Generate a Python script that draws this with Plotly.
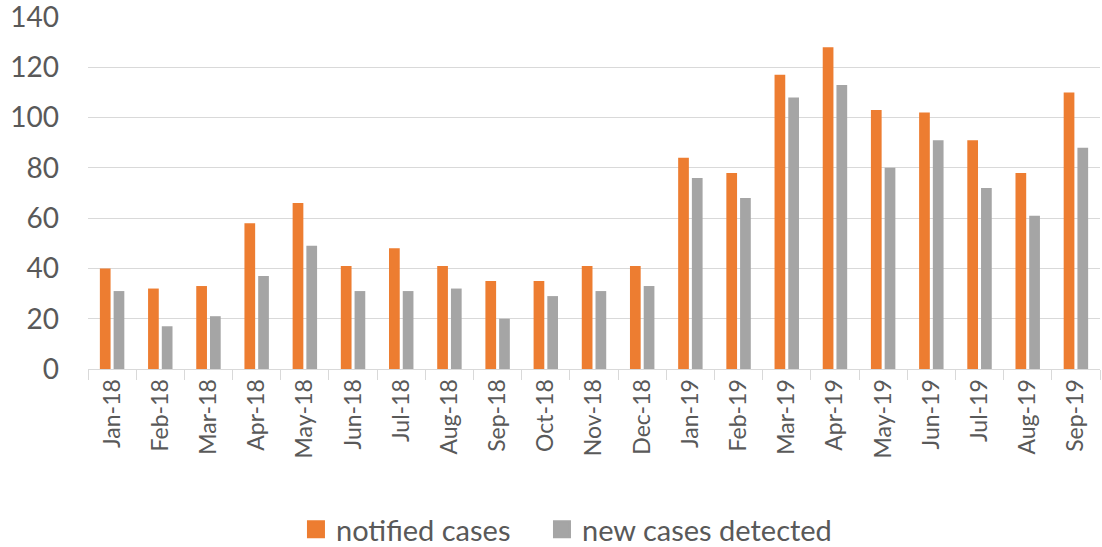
import plotly.graph_objects as go

months = ["Jan-18", "Feb-18", "Mar-18", "Apr-18", "May-18", "Jun-18", "Jul-18",
          "Aug-18", "Sep-18", "Oct-18", "Nov-18", "Dec-18", "Jan-19", "Feb-19",
          "Mar-19", "Apr-19", "May-19", "Jun-19", "Jul-19", "Aug-19", "Sep-19"]
notified_cases = [40, 32, 33, 58, 66, 41, 48, 41, 35, 35, 41, 41, 84, 78,
                  117, 128, 103, 102, 91, 78, 110]
new_cases_detected = [31, 17, 21, 37, 49, 31, 31, 32, 20, 29, 31, 33, 76, 68,
                      108, 113, 80, 91, 72, 61, 88]
y_ticks = [0, 20, 40, 60, 80, 100, 120, 140]
series_names = ["notified cases", "new cases detected"]
series_colors = ["#ED7D31", "#A5A5A5"]
legend_ids = ["legend", "legend2"]

FONT = "Lato, Carlito, Calibri, sans-serif"
TXT = "#595959"

fig = go.Figure()
for vals, name, col in zip([notified_cases, new_cases_detected], series_names, series_colors):
    fig.add_trace(go.Bar(x=months, y=vals, name=name, showlegend=False,
                         marker=dict(color=col, line=dict(width=0))))
# legend proxies with larger square swatches
for name, col, lg in zip(series_names, series_colors, legend_ids):
    fig.add_trace(go.Scatter(x=[None], y=[None], mode="markers", name=name, legend=lg,
                             marker=dict(symbol="square", size=16, color=col,
                                         line=dict(width=2, color=col))))

legend_common = dict(orientation="h", xanchor="left", yref="container", y=0.032,
                     yanchor="middle", font=dict(size=29, color=TXT, family=FONT),
                     itemwidth=30, itemsizing="trace", bgcolor="rgba(0,0,0,0)")

fig.update_layout(
    width=1102, height=547,
    margin=dict(l=88, r=2, t=17, b=178),
    paper_bgcolor="white", plot_bgcolor="white",
    barmode="group", bargap=0.43, bargroupgap=0.22,
    font=dict(family=FONT, color=TXT, size=23),
    legend=dict(x=0.2055, **legend_common),
    legend2=dict(x=0.4486, **legend_common),
    xaxis=dict(type="category", tickangle=-90, tickson="boundaries",
               ticks="outside", ticklen=10, tickcolor="#D9D9D9",
               showline=True, linecolor="#D9D9D9", linewidth=1, automargin=False,
               showgrid=False, tickfont=dict(size=23, color=TXT, family=FONT)),
    yaxis=dict(range=[0, 140], tickvals=y_ticks, showgrid=True, gridcolor="#D9D9D9",
               gridwidth=1, zeroline=False, showline=False, ticks="", automargin=False,
               ticklabeloverflow="allow",
               tickfont=dict(size=28, color=TXT, family=FONT), ticklabelstandoff=28),
)

fig.write_html("out.html", config={"displayModeBar": False},
               post_script="document.body.style.margin='0';document.body.style.overflow='hidden';")
